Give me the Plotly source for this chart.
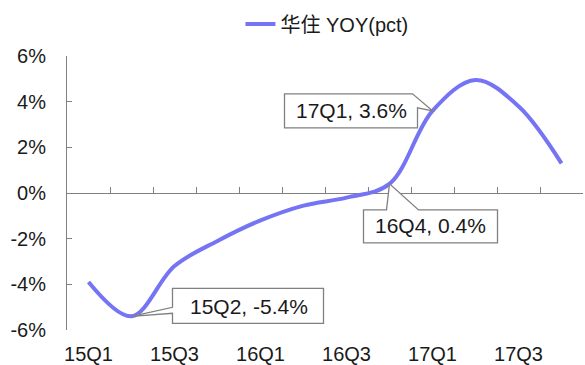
import plotly.graph_objects as go

categories = ["15Q1", "15Q2", "15Q3", "15Q4", "16Q1", "16Q2", "16Q3", "16Q4",
              "17Q1", "17Q2", "17Q3", "17Q4"]
yoy_values = [-3.9, -5.4, -3.2, -2.1, -1.2, -0.55, -0.2, 0.4, 3.6, 4.95, 3.8, 1.3]
series_name = "华住 YOY(pct)"
y_tickvals = [-6, -4, -2, 0, 2, 4, 6]
y_ticktext = ["-6%", "-4%", "-2%", "0%", "2%", "4%", "6%"]
x_tick_labels = categories[::2]
label_values = {1: -5.4, 7: 0.4, 8: 3.6}

# callouts: (category index, box path in pixel offsets, text offset)
callouts = [
    (1, "M41,28 L192,28 L192,-7 L41,-7 L41,3 L0,0 L41,9 Z", (117, 10)),
    (7, "M-26,-26 L-3,-26 L0,0 L29,-26 L108,-26 L108,-59 L-26,-59 Z", (41, -42)),
    (8, "M-148,17 L-20,17 L0,0 L-15,3 L-15,-17 L-148,-17 Z", (-81, 0)),
]

FONT = "Liberation Sans, Arial, Noto Sans CJK SC, sans-serif"
GREY = "#808080"
LINE = "#7474F4"
TXT = "#1a1a1a"

fig = go.Figure()
fig.add_trace(go.Scatter(
    x=categories, y=yoy_values, name=series_name, mode="lines",
    line=dict(color=LINE, width=4, shape="spline", smoothing=1),
    hoverinfo="skip",
))
# helper trace for the zero-crossing category axis
fig.add_trace(go.Scatter(
    x=categories, y=yoy_values, xaxis="x2", mode="lines",
    line=dict(width=0), opacity=0, showlegend=False, hoverinfo="skip",
))

shapes = []
annotations = []
for idx, path, (dx, dy) in callouts:
    shapes.append(dict(
        type="path", xref="x", yref="y", xsizemode="pixel", ysizemode="pixel",
        xanchor=categories[idx], yanchor=yoy_values[idx], path=path,
        fillcolor="white", line=dict(color=GREY, width=1.3), layer="above",
    ))
    annotations.append(dict(
        x=categories[idx], y=yoy_values[idx], xref="x", yref="y",
        xshift=dx, yshift=dy, showarrow=False,
        text=f"{categories[idx]}, {label_values[idx]}%",
        font=dict(family=FONT, size=21, color=TXT),
    ))

fig.update_layout(
    width=585, height=365, autosize=False,
    margin=dict(l=67, r=2, t=56, b=35, pad=0, autoexpand=False),
    paper_bgcolor="white", plot_bgcolor="white",
    font=dict(family=FONT, size=20, color=TXT),
    showlegend=True,
    legend=dict(orientation="h", xref="container", yref="container",
                x=0.411, y=1 - 24 / 365, xanchor="left", yanchor="middle",
                font=dict(family=FONT, size=20, color=TXT),
                bgcolor="rgba(0,0,0,0)"),
    xaxis=dict(type="category", categoryorder="array", categoryarray=categories,
               range=[-0.5, len(categories) - 0.5],
               tickvals=x_tick_labels, ticktext=x_tick_labels,
               showline=False, ticks="", showgrid=False, zeroline=False,
               ticklabelstandoff=10, automargin=False,
               tickfont=dict(family=FONT, size=20, color=TXT)),
    xaxis2=dict(type="category", categoryorder="array", categoryarray=categories,
                range=[-0.5, len(categories) - 0.5], overlaying="x",
                anchor="free", position=0.5, side="bottom", automargin=False,
                showline=True, linecolor=GREY, linewidth=1,
                ticks="inside", ticklen=6, tickcolor=GREY, tickwidth=1,
                tickson="boundaries", showticklabels=False,
                showgrid=False, zeroline=False, layer="below traces"),
    yaxis=dict(range=[-6, 6], tickvals=y_tickvals, ticktext=y_ticktext,
               showline=True, linecolor=GREY, linewidth=1, automargin=False,
               ticks="inside", ticklen=5, tickcolor=GREY, tickwidth=1,
               showgrid=False, zeroline=False, ticklabelstandoff=16,
               tickfont=dict(family=FONT, size=20, color=TXT)),
    shapes=shapes, annotations=annotations,
)

fig.write_html("out.html")
